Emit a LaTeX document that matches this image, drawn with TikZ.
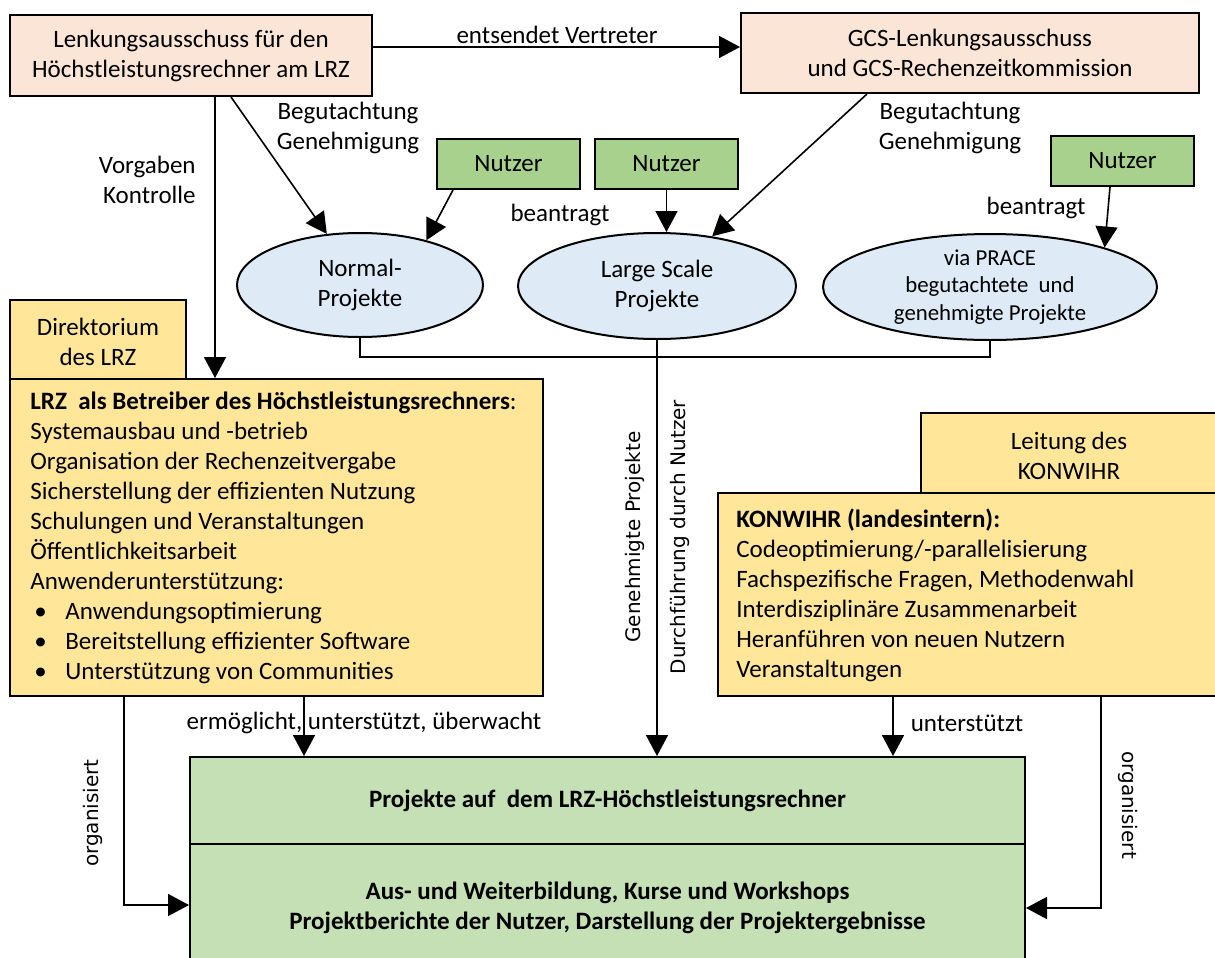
\documentclass[tikz,border=0pt]{standalone}
\usepackage{fontspec}
\setmainfont{Carlito}
\newfontfamily\dejavu{DejaVu Sans}
\usetikzlibrary{arrows.meta,shapes.geometric}
\definecolor{peach}{HTML}{FBE5D6}
\definecolor{ellblue}{HTML}{DEEBF7}
\definecolor{nutzgreen}{HTML}{A9D18E}
\definecolor{lyellow}{HTML}{FFE699}
\definecolor{lgreen}{HTML}{C5E0B4}
\newcommand{\lrzbullet}{\makebox[17.5pt][l]{\hspace{2pt}\textbullet}}
\begin{document}
\begin{tikzpicture}[x=0.5pt,y=-0.5pt,
  every node/.style={font=\fontsize{12.5}{15}\selectfont},
  box/.style={draw, line width=1pt, inner sep=0pt, align=center},
  nutzer/.style={box, fill=nutzgreen, minimum width=71.5pt, minimum height=25pt},
  ell/.style={draw, ellipse, line width=1pt, fill=ellblue, inner sep=0pt, align=center},
  conn/.style={line width=0.8pt},
  arr/.style={conn, -{Triangle[length=10.5pt,width=11pt]}},
  lbl/.style={inner sep=0pt, align=center},
  vlbl/.style={inner sep=0pt, font=\dejavu\fontsize{10}{12}\selectfont}
]
\useasboundingbox (0,0) rectangle (1215,958);
\clip (0,0) rectangle (1215,958);
\fill[white] (0,0) rectangle (1215,958);

% top boxes
\node[box, fill=peach, minimum width=181pt, minimum height=40.5pt] (lenk) at (191,55.5)
  {Lenkungsausschuss für den\\Höchstleistungsrechner am LRZ};
\node[box, fill=peach, minimum width=229pt, minimum height=40pt] (gcs) at (970,53)
  {GCS-Lenkungsausschuss\\und GCS-Rechenzeitkommission};

% Nutzer
\node[nutzer] (n1) at (508.5,164) {Nutzer};
\node[nutzer] (n2) at (666.5,164) {Nutzer};
\node[nutzer] (n3) at (1122.5,161) {Nutzer};

% ellipses
\node[ell, minimum width=123pt, minimum height=52pt] (normal) at (360,285) {Normal-\\Projekte};
\node[ell, minimum width=139pt, minimum height=53pt] (large) at (657,286) {Large Scale\\Projekte};
\node[ell, minimum width=167pt, minimum height=53pt, font=\fontsize{11.4}{13.75}\selectfont] (prace) at (990,287)
  {via PRACE\\begutachtete~ und\\genehmigte Projekte};

% LRZ
\node[box, fill=lyellow, minimum width=88pt, minimum height=39.5pt] (dir) at (98,339.5) {};
\node[lbl] (dirtext) at (98,342) {Direktorium\\des LRZ};
\node[box, fill=lyellow, minimum width=266.5pt, minimum height=158.5pt] (lrz) at (276.5,537.5) {};
\node[lbl, anchor=west, align=left] (lrztext) at (30,538)
  {\textbf{LRZ\ \ als Betreiber des Höchstleistungsrechners}:\\
   Systemausbau und -betrieb\\
   Organisation der Rechenzeitvergabe\\
   Sicherstellung der effizienten Nutzung\\
   Schulungen und Veranstaltungen\\
   Öffentlichkeitsarbeit\\
   Anwenderunterstützung:\\
   \lrzbullet Anwendungsoptimierung\\
   \lrzbullet Bereitstellung effizienter Software\\
   \lrzbullet Unterstützung von Communities};

% KONWIHR
\node[box, fill=lyellow, minimum width=159.5pt, minimum height=40pt] (leit) at (1080.5,453) {};
\node[lbl] (leittext) at (1069,456) {Leitung des\\KONWIHR};
\node[box, fill=lyellow, minimum width=261pt, minimum height=101.5pt] (kon) at (979,594.5) {};
\node[lbl, anchor=west, align=left] (kontext) at (736,595)
  {\textbf{KONWIHR (landesintern):}\\
   Codeoptimierung/-parallelisierung\\
   Fachspezifische Fragen, Methodenwahl\\
   Interdisziplinäre Zusammenarbeit\\
   Heranführen von neuen Nutzern\\
   Veranstaltungen};

% green bottom
\node[box, fill=lgreen, minimum width=417.5pt, minimum height=43.5pt, font=\bfseries\fontsize{12.5}{15}\selectfont] (greenA) at (607.5,800.5)
  {Projekte auf\ \ dem LRZ-Höchstleistungsrechner};
\node[box, fill=lgreen, minimum width=417.5pt, minimum height=83pt] (greenB) at (607.5,927) {};
\node[lbl, font=\bfseries\fontsize{12.5}{15}\selectfont] (greentext) at (607.5,908)
  {Aus- und Weiterbildung, Kurse und Workshops\\Projektberichte der Nutzer, Darstellung der Projektergebnisse};

% helper coordinates
\coordinate (yE) at (0,47);
\coordinate (xV) at (215,0);
\coordinate (xD) at (231,0);
\coordinate (xN1) at (453,0);
\coordinate (xG) at (867,0);
\coordinate (xN3) at (1110,0);
\coordinate (yB) at (0,357);
\coordinate (xL) at (304,0);
\coordinate (xK) at (893,0);
\coordinate (xOL) at (124,0);
\coordinate (yOL) at (0,905);
\coordinate (xOR) at (1101,0);
\coordinate (yOR) at (0,908);

% connectors
\draw[arr] (lenk.east |- yE) -- (gcs.west |- yE);
\draw[arr] (lenk.south -| xV) -- (lrz.north -| xV);
\draw[arr] (lenk.south -| xD) -- (normal.123);
\draw[arr] (n1.south -| xN1) -- (normal.34);
\draw[arr] (n2.south) -- (n2.south |- large.north);
\draw[arr] (gcs.south -| xG) -- (large.42);
\draw[arr] (n3.south -| xN3) -- (prace.19);
\draw[conn] (normal.south) -- (normal.south |- yB) -| (prace.south);
\draw[arr] (large.south) -- (large.south |- greenA.north);
\draw[arr] (lrz.south -| xL) -- (greenA.north -| xL);
\draw[arr] (kon.south -| xK) -- (greenA.north -| xK);
\draw[arr] (lrz.south -| xOL) |- (greenB.west |- yOL);
\draw[arr] (kon.south -| xOR) |- (greenB.east |- yOR);

% labels
\node[lbl] (lentsendet) at (557,35) {entsendet Vertreter};
\node[lbl] (lbeg1) at (348,128) {Begutachtung\\Genehmigung};
\node[lbl] (lbeg2) at (950,128) {Begutachtung\\Genehmigung};
\node[lbl, anchor=east, align=right] (lvorg) at (196,180) {Vorgaben\\Kontrolle};
\node[lbl] (lbean1) at (560,215) {beantragt};
\node[lbl] (lbean2) at (1036,208) {beantragt};
\node[vlbl, rotate=90] (lgen) at (635,537) {Genehmigte Projekte};
\node[vlbl, rotate=90] (ldurch) at (680,537) {Durchführung durch Nutzer};
\node[lbl] (lerm) at (364,723) {ermöglicht, unterstützt, überwacht};
\node[lbl] (lunt) at (967,723) {unterstützt};
\node[vlbl, rotate=90] (lorg1) at (93,813) {organisiert};
\node[vlbl, rotate=-90] (lorg2) at (1128,805) {organisiert};
\end{tikzpicture}
\end{document}
